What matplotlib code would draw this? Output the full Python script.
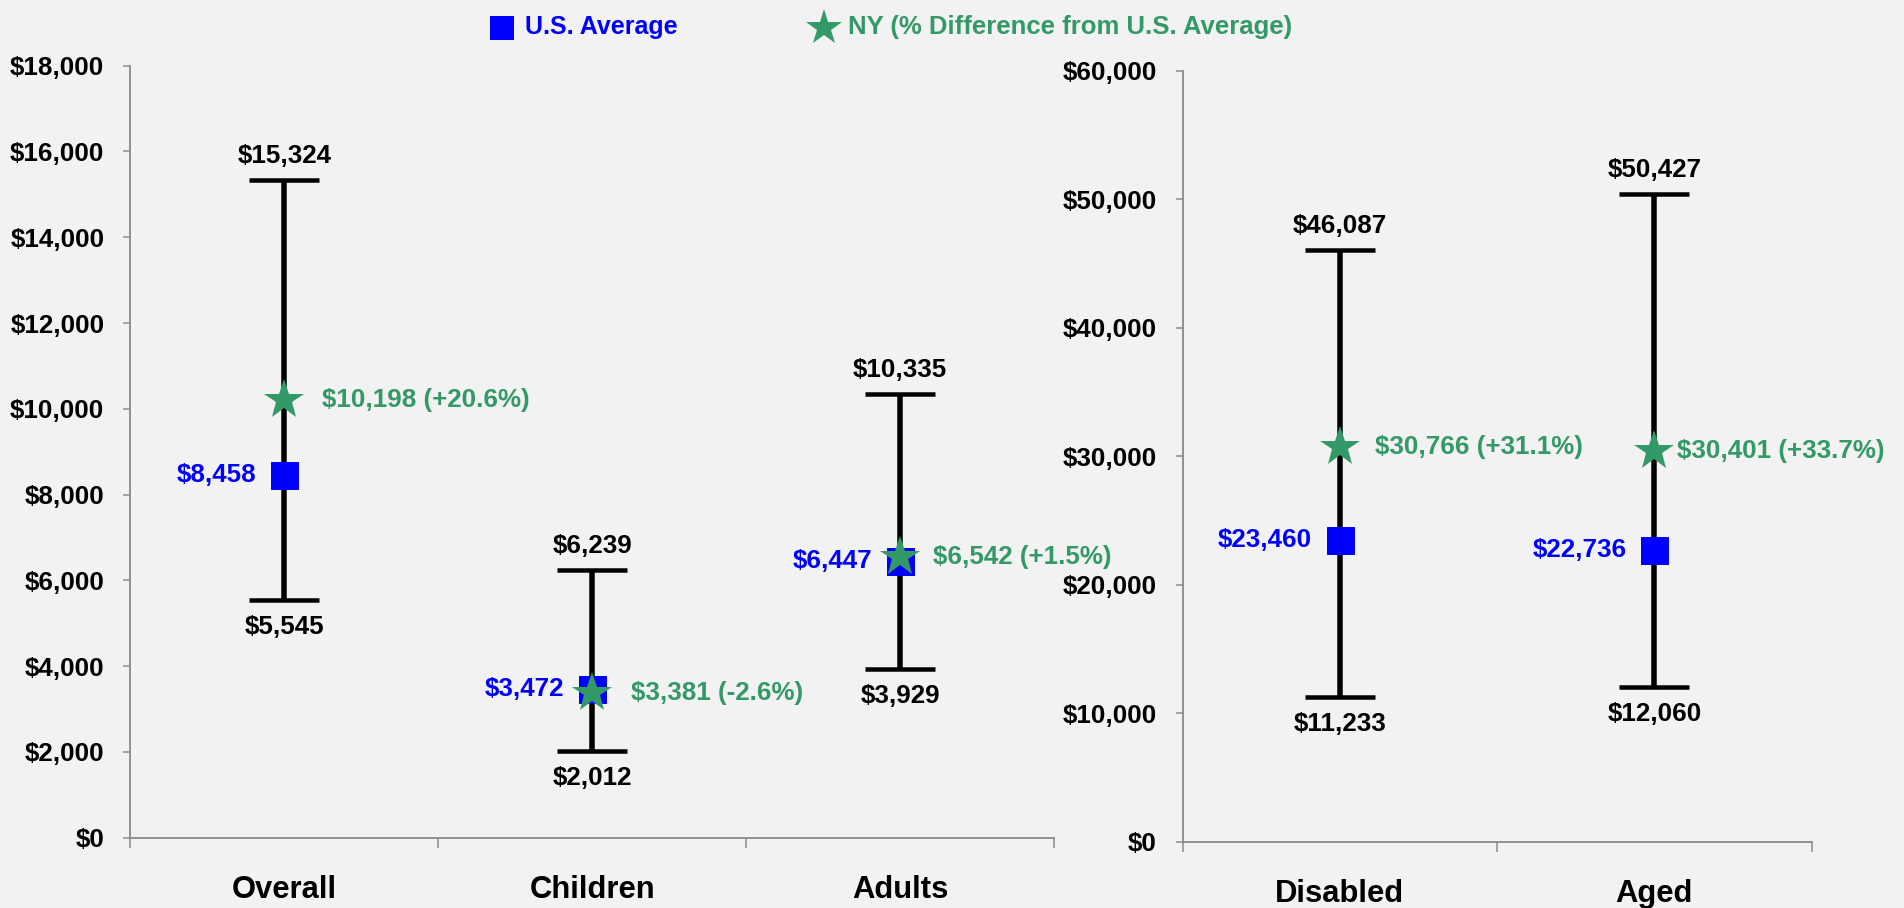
import matplotlib
matplotlib.use("Agg")
import matplotlib.pyplot as plt
from matplotlib.lines import Line2D
from matplotlib.ticker import FuncFormatter, FixedLocator

# ---------------- data ----------------
left_categories = ["Overall", "Children", "Adults"]
left_high = [15324, 6239, 10335]
left_low = [5545, 2012, 3929]
left_us = [8458, 3472, 6447]
left_ny = [10198, 3381, 6542]
left_pct = ["+20.6%", "-2.6%", "+1.5%"]

right_categories = ["Disabled", "Aged"]
right_high = [46087, 50427]
right_low = [11233, 12060]
right_us = [23460, 22736]
right_ny = [30766, 30401]
right_pct = ["+31.1%", "+33.7%"]

left_yticks = list(range(0, 18001, 2000))
right_yticks = list(range(0, 60001, 10000))

# ---------------- styles ----------------
BG = "#F2F2F2"
BLUE = "#0000FF"
GREEN = "#339966"
GRAY = "#898989"
DPI = 72
W, H = 1904, 908

plt.rcParams["font.family"] = ["Liberation Sans", "DejaVu Sans"]
plt.rcParams["font.weight"] = "bold"

fig = plt.figure(figsize=(W / DPI, H / DPI), dpi=DPI, facecolor=BG)

def px_axes(x0, x1, ytop, ybot):
    return fig.add_axes([x0 / W, (H - ybot) / H, (x1 - x0) / W, (ybot - ytop) / H])

ax_l = px_axes(130.4, 1054, 65.7, 837.7)
ax_r = px_axes(1182.6, 1811.6, 71, 841.7)

money = FuncFormatter(lambda v, p: f"${v:,.0f}")

# per-point horizontal offsets (px) for the NY labels
ny_dx_left = [38, 39, 33]
ny_dx_right = [35, 23]

def draw_panel(ax, cats, high, low, us, ny, pct, yticks, ny_dx):
    n = len(cats)
    xs = [i + 0.5 for i in range(n)]
    ax.set_facecolor(BG)
    ax.set_xlim(0, n)
    ax.set_ylim(yticks[0], yticks[-1])
    for s in ("top", "right"):
        ax.spines[s].set_visible(False)
    for s in ("left", "bottom"):
        ax.spines[s].set_color(GRAY)
        ax.spines[s].set_linewidth(1.8)

    mids = [(h + l) / 2 for h, l in zip(high, low)]
    err = [[m - l for m, l in zip(mids, low)], [h - m for h, m in zip(high, mids)]]
    ax.errorbar(xs, mids, yerr=err, fmt="none", ecolor="black", elinewidth=5.5,
                capsize=35, capthick=4.5, zorder=2)
    ax.plot(xs, us, ls="none", marker="s", markersize=27, color=BLUE, zorder=3)
    ax.plot(xs, ny, ls="none", marker="*", markersize=42, color=GREEN,
            markeredgewidth=0, zorder=4)

    for i, x in enumerate(xs):
        ax.annotate(f"${high[i]:,}", (x, high[i]), xytext=(0, 24), textcoords="offset points",
                    ha="center", va="center", fontsize=26, color="black")
        ax.annotate(f"${low[i]:,}", (x, low[i]), xytext=(0, -27), textcoords="offset points",
                    ha="center", va="center", fontsize=26, color="black")
        ax.annotate(f"${us[i]:,}", (x, us[i]), xytext=(-28, 0), textcoords="offset points",
                    ha="right", va="center", fontsize=26, color=BLUE)
        ax.annotate(f"${ny[i]:,} ({pct[i]})", (x, ny[i]), xytext=(ny_dx[i], 0),
                    textcoords="offset points", ha="left", va="center", fontsize=26,
                    color=GREEN)

    ax.set_yticks(yticks)
    ax.yaxis.set_major_formatter(money)
    ax.tick_params(axis="y", direction="out", length=7, width=1.5, color=GRAY,
                   pad=19, labelsize=26, labelcolor="black")
    ax.xaxis.set_major_locator(FixedLocator(list(range(n + 1))))
    ax.xaxis.set_major_formatter(FuncFormatter(lambda v, p: ""))
    ax.set_xticks(xs, minor=True)
    ax.set_xticklabels(cats, minor=True)
    ax.tick_params(axis="x", which="major", direction="out", length=10, width=1.5, color=GRAY)
    ax.tick_params(axis="x", which="minor", length=0, pad=37, labelsize=31, labelcolor="black")

draw_panel(ax_l, left_categories, left_high, left_low, left_us, left_ny, left_pct,
           left_yticks, ny_dx_left)
draw_panel(ax_r, right_categories, right_high, right_low, right_us, right_ny, right_pct,
           right_yticks, ny_dx_right)

# ---------------- legend ----------------
def fig_pt(x, y):
    return x / W, (H - y) / H

sx, sy = fig_pt(501, 27)
fig.add_artist(Line2D([sx], [sy], transform=fig.transFigure, ls="none", marker="s",
                      markersize=23, color=BLUE))
tx, ty = fig_pt(525, 27)
fig.text(tx, ty, "U.S. Average", color=BLUE, fontsize=25, ha="left", va="center")
stx, sty = fig_pt(824, 28)
fig.add_artist(Line2D([stx], [sty], transform=fig.transFigure, ls="none", marker="*",
                      markersize=38, markeredgewidth=0, color=GREEN))
t2x, t2y = fig_pt(848, 27)
fig.text(t2x, t2y, "NY (% Difference from U.S. Average)", color=GREEN, fontsize=25.8,
         ha="left", va="center")

fig.savefig("out.png", dpi=DPI, facecolor=BG)
